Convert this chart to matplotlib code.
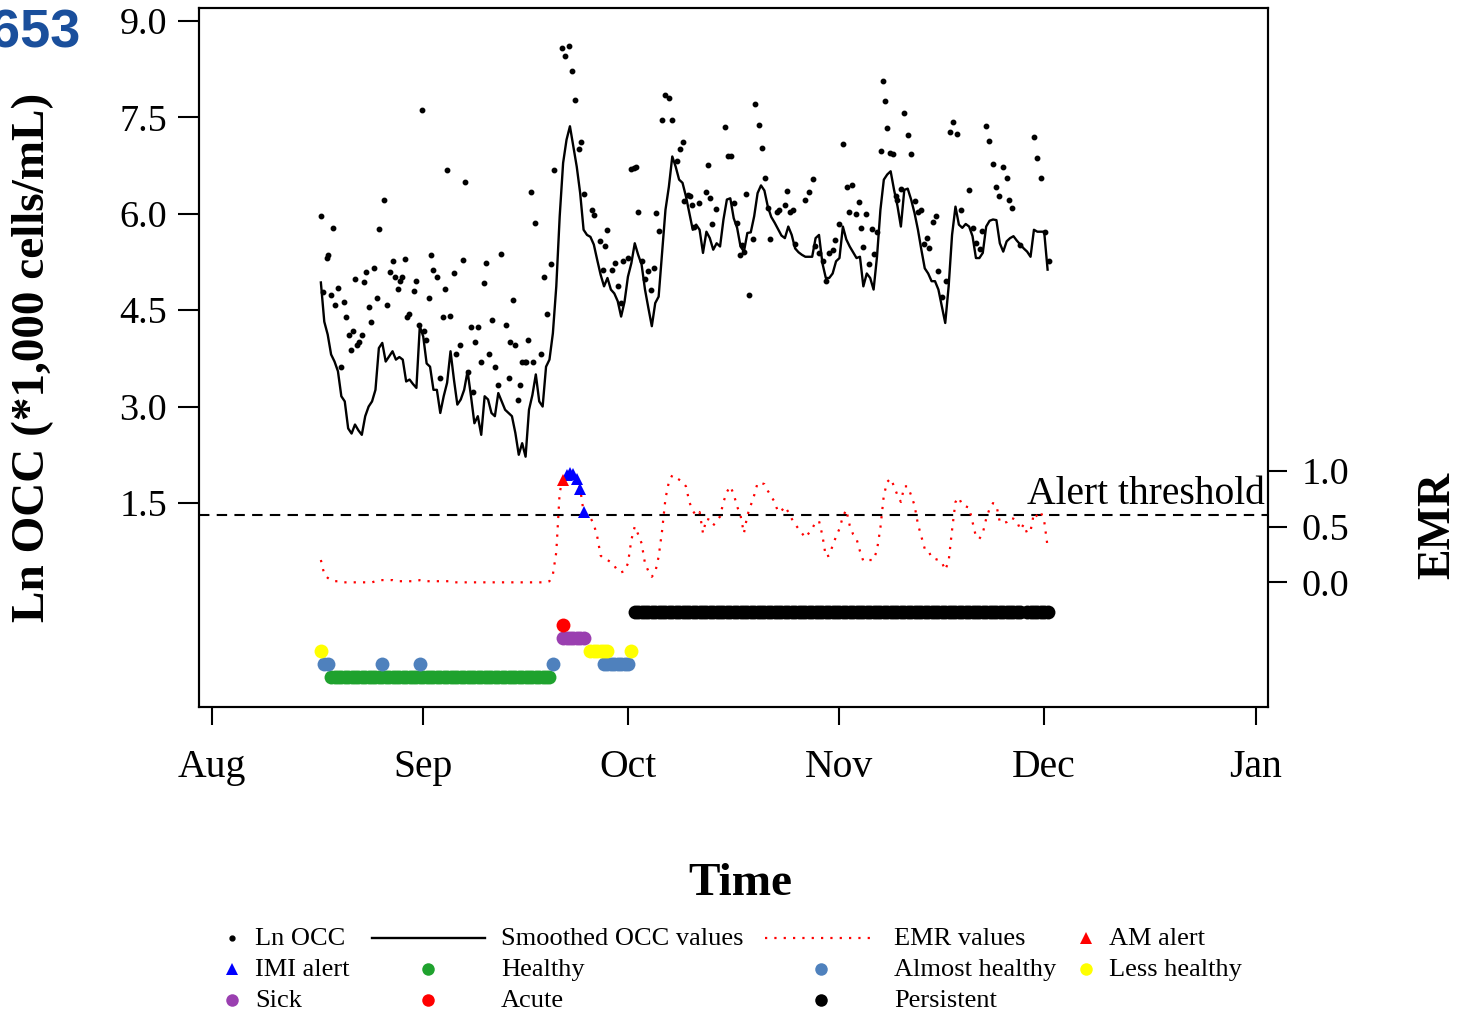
import matplotlib.pyplot as plt
import matplotlib.dates as mdates
import matplotlib.transforms as mtransforms
from matplotlib.lines import Line2D
from datetime import datetime
import numpy as np

plt.rcParams['font.family'] = ['Liberation Serif', 'DejaVu Serif']

cow_id = '653'

# days after 1 Aug for the raw Ln OCC values
dot_days = [15.96, 16.35, 16.84, 17.08, 17.47, 17.76, 18.11, 18.54, 18.89, 19.33,
            19.67, 20.11, 20.45, 20.64, 20.99, 21.33, 21.62, 21.96, 22.30, 22.55,
            22.99, 23.28, 23.77, 24.21, 24.50, 25.18, 25.72, 26.16, 26.50, 26.89,
            27.28, 27.57, 27.92, 28.26, 28.55, 28.89, 29.67, 29.92, 30.36, 30.75,
            31.09, 31.43, 31.82, 32.11, 32.45, 33.09, 33.53, 33.87, 34.21, 34.55,
            34.99, 35.48, 35.87, 36.46, 36.80, 37.19, 37.58, 37.97, 38.26, 38.65,
            39.04, 39.53, 39.97, 40.26, 40.65, 41.04, 41.48, 41.92, 42.46, 43.09,
            43.53, 43.78, 44.17, 44.51, 44.95, 45.24, 45.48, 45.88, 46.12, 46.36,
            46.75, 47.10, 47.44, 48.27, 48.71, 49.15, 49.68,
            50.22, 51.35, 51.74, 52.32, 52.76, 53.30, 53.79, 54.13, 54.52, 55.74,
            55.98, 56.86, 57.35, 57.64, 57.94, 58.62, 59.15, 59.50, 59.98, 60.28,
            60.96, 61.45, 61.84, 62.13, 62.47, 63.06, 63.45, 63.94, 64.38, 64.87,
            65.11, 65.55, 66.04, 66.48, 67.01, 67.45, 68.18, 68.57, 69.01, 69.26,
            69.75, 70.14, 70.43, 70.72, 71.41, 72.43, 72.72, 72.97, 73.36, 73.85,
            75.16, 75.70, 76.09, 76.58, 76.97, 77.36, 77.65, 77.94, 78.34, 78.73,
            79.31, 79.65, 80.14, 80.58, 81.07, 81.46, 81.75, 82.83, 83.17, 84.00,
            84.29, 84.78, 85.17,
            85.50, 87.02, 87.51, 88.09, 88.43, 89.06, 89.55, 90.04, 90.53, 91.02,
            91.41, 91.94, 92.58, 93.07, 93.46, 93.85, 94.38, 94.82, 95.12, 95.51,
            95.85, 96.34, 96.73, 97.02, 97.46, 98.14, 98.34, 98.68, 99.02, 99.41,
            99.90, 100.29, 100.48, 101.02, 101.46, 102.00, 102.44, 103.07, 103.56, 103.90,
            104.44, 104.88, 105.17, 105.76, 106.10, 106.49, 106.98, 107.61, 108.20, 108.68,
            109.17, 109.76, 110.98, 111.51, 111.95, 112.59, 112.93, 113.47, 113.95, 114.44,
            114.93, 115.42, 116.00, 116.49, 116.88, 117.23, 118.45, 120.49, 120.98, 121.57,
            122.10, 122.74]
dot_vals = [5.97, 4.78, 5.31, 5.35, 4.74, 5.78, 4.58, 4.85, 3.62, 4.63,
            4.39, 4.11, 3.88, 4.18, 4.98, 3.95, 4.00, 4.11, 4.93, 5.09,
            4.55, 4.31, 5.16, 4.69, 5.76, 6.21, 4.58, 5.09, 5.27, 5.01,
            4.83, 4.95, 5.02, 5.30, 4.39, 4.44, 4.80, 4.96, 4.27, 7.62,
            4.18, 4.04, 4.69, 5.35, 5.13, 5.01, 3.44, 4.39, 4.83, 6.68,
            4.41, 5.08, 3.82, 3.95, 5.28, 6.50, 3.54, 4.23, 3.22, 4.00,
            4.23, 3.70, 4.92, 5.24, 3.82, 4.35, 3.62, 3.34, 5.38, 4.27,
            3.45, 4.00, 4.66, 3.95, 3.10, 3.34, 3.70, 3.70, 3.70, 4.04,
            6.33, 3.70, 5.85, 3.82, 5.02, 4.44, 5.22,
            6.68, 8.57, 8.45, 8.61, 8.22, 7.77, 7.01, 7.12, 6.30, 6.06,
            5.98, 5.57, 5.13, 5.50, 5.74, 5.13, 5.24, 4.88, 4.61, 5.26,
            5.31, 6.69, 6.71, 6.72, 6.03, 5.26, 4.98, 5.11, 4.81, 5.15,
            6.01, 5.73, 7.45, 7.85, 7.80, 7.45, 6.82, 7.01, 7.11, 6.20,
            6.29, 6.27, 6.14, 5.79, 6.17, 6.33, 6.76, 6.25, 5.84, 6.08,
            7.35, 6.90, 6.90, 6.17, 5.86, 5.36, 5.52, 5.40, 6.30, 4.74,
            5.61, 7.70, 7.38, 7.02, 6.55, 6.09, 5.60, 6.03, 6.06, 6.14,
            6.35, 6.03, 6.06,
            5.53, 6.22, 6.33, 6.54, 5.49, 5.39, 5.26, 4.96, 5.39, 5.43,
            5.59, 5.84, 7.08, 6.42, 6.03, 6.45, 5.99, 6.18, 5.77, 5.48,
            5.99, 5.22, 5.76, 5.38, 5.72, 6.98, 8.07, 7.76, 7.34, 6.94,
            6.93, 6.28, 6.22, 6.39, 7.56, 7.23, 6.93, 6.20, 6.03, 6.06,
            5.53, 5.62, 5.47, 5.87, 5.96, 5.11, 4.71, 4.95, 7.27, 7.43,
            7.24, 6.06, 6.37, 5.78, 5.54, 5.45, 5.73, 7.36, 7.13, 6.77,
            6.41, 6.28, 6.72, 6.55, 6.22, 6.09, 5.52, 7.19, 6.87, 6.55,
            5.71, 5.26]

# smoothed OCC and EMR, every half day from 17 Aug (day 16)
grid_start = 16.0
grid_step = 0.5
occ_smooth = [4.93, 4.32, 4.12, 3.81, 3.70, 3.55, 3.16, 3.08, 2.66, 2.58,
              2.72, 2.63, 2.56, 2.85, 3.00, 3.08, 3.26, 3.91, 3.99, 3.70,
              3.78, 3.86, 3.73, 3.77, 3.73, 3.39, 3.42, 3.35, 3.29, 4.25,
              4.09, 3.67, 3.62, 3.26, 3.26, 2.90, 3.16, 3.37, 3.86, 3.42,
              3.03, 3.11, 3.26, 3.55, 3.16, 2.74, 2.85, 2.56, 3.16, 3.11,
              2.90, 2.85, 3.21, 3.08, 2.95, 2.90, 2.85, 2.59, 2.25, 2.43,
              2.22, 2.95, 3.18, 3.50, 3.08, 3.00, 3.62, 3.73, 4.14, 4.87,
              5.96, 6.79, 7.15, 7.36, 7.05, 6.73, 6.32, 5.75, 5.67, 5.64,
              5.52, 5.28, 5.05, 4.87, 5.00, 4.82, 4.76, 4.64, 4.40, 4.63,
              5.02, 5.23, 5.54, 5.36, 5.21, 4.82, 4.53, 4.25, 4.61, 4.71,
              5.39, 6.06, 6.42, 6.89, 6.73, 6.53, 6.48, 6.27, 6.01, 5.75,
              5.83, 5.75, 5.39, 5.72, 5.62, 5.44, 5.54, 5.49, 5.91, 6.22,
              6.24, 5.93, 5.78, 5.49, 5.41, 5.70, 5.71, 5.96, 6.32, 6.44,
              6.36, 6.11, 5.95, 5.86, 5.76, 5.66, 5.62, 5.80, 5.67, 5.46,
              5.40, 5.36, 5.33, 5.33, 5.33, 5.62, 5.67, 5.23, 5.00, 5.00,
              5.07, 5.26, 5.31, 5.80, 5.60, 5.49, 5.40, 5.31, 5.33, 4.87,
              5.07, 5.00, 4.82, 5.33, 6.06, 6.53, 6.61, 6.66, 6.37, 6.12,
              5.80, 6.37, 6.39, 6.22, 6.01, 5.75, 5.44, 5.15, 5.07, 4.95,
              4.95, 4.82, 4.56, 4.30, 4.87, 5.67, 6.11, 5.83, 5.78, 5.84,
              5.80, 5.65, 5.31, 5.31, 5.39, 5.80, 5.89, 5.91, 5.90, 5.54,
              5.41, 5.57, 5.62, 5.65, 5.58, 5.52, 5.46, 5.41, 5.33, 5.75,
              5.72, 5.72, 5.72, 5.13]
emr = [0.20, 0.07, 0.04, 0.02, 0.01, 0.01, 0.00, 0.00, 0.00, 0.00,
       0.00, 0.00, 0.00, 0.00, 0.00, 0.00, 0.01, 0.02, 0.02, 0.02,
       0.02, 0.02, 0.01, 0.01, 0.01, 0.01, 0.01, 0.01, 0.01, 0.02,
       0.02, 0.01, 0.01, 0.01, 0.01, 0.01, 0.01, 0.01, 0.01, 0.00,
       0.00, 0.00, 0.00, 0.00, 0.00, 0.00, 0.00, 0.00, 0.00, 0.00,
       0.00, 0.00, 0.00, 0.00, 0.00, 0.00, 0.00, 0.00, 0.00, 0.00,
       0.00, 0.00, 0.00, 0.00, 0.00, 0.00, 0.00, 0.01, 0.07, 0.27,
       0.81, 0.92, 0.96, 0.98, 0.97, 0.93, 0.84, 0.63, 0.61, 0.58,
       0.52, 0.41, 0.24, 0.21, 0.20, 0.18, 0.15, 0.10, 0.09, 0.10,
       0.17, 0.38, 0.50, 0.43, 0.35, 0.17, 0.10, 0.05, 0.09, 0.23,
       0.46, 0.75, 0.90, 0.96, 0.94, 0.92, 0.90, 0.86, 0.72, 0.64,
       0.60, 0.63, 0.44, 0.57, 0.56, 0.51, 0.55, 0.59, 0.72, 0.81,
       0.86, 0.79, 0.68, 0.60, 0.44, 0.60, 0.69, 0.78, 0.89, 0.89,
       0.88, 0.82, 0.77, 0.72, 0.63, 0.64, 0.68, 0.63, 0.57, 0.52,
       0.48, 0.44, 0.40, 0.44, 0.48, 0.54, 0.55, 0.42, 0.23, 0.24,
       0.33, 0.41, 0.48, 0.59, 0.65, 0.51, 0.43, 0.39, 0.28, 0.19,
       0.20, 0.20, 0.20, 0.29, 0.49, 0.78, 0.90, 0.93, 0.86, 0.78,
       0.72, 0.86, 0.86, 0.78, 0.69, 0.52, 0.41, 0.30, 0.29, 0.22,
       0.21, 0.20, 0.18, 0.11, 0.19, 0.47, 0.72, 0.76, 0.69, 0.68,
       0.67, 0.54, 0.41, 0.39, 0.44, 0.57, 0.66, 0.71, 0.69, 0.54,
       0.53, 0.54, 0.58, 0.57, 0.55, 0.47, 0.52, 0.44, 0.46, 0.62,
       0.59, 0.63, 0.55, 0.32]
alert_threshold = 0.6

am_alert_days = [51.5]
imi_alert_days = [52.0, 52.5, 53.0, 53.5, 54.0, 54.5]

# udder health status, runs of half-day records (first day, last day)
status_runs = {
    'Healthy': [(17.5, 49.5)],
    'Almost healthy': [(16.5, 17.0), (25.0, 25.0), (30.5, 30.5), (50.0, 50.0), (57.5, 61.0)],
    'Less healthy': [(16.0, 16.0), (55.5, 58.0), (61.5, 61.5)],
    'Sick': [(51.5, 54.5)],
    'Acute': [(51.5, 51.5)],
    'Persistent': [(62.0, 118.5), (119.5, 122.5)],
}
status_level = {'Persistent': -0.2, 'Acute': -0.4, 'Sick': -0.6,
                'Less healthy': -0.8, 'Almost healthy': -1.0, 'Healthy': -1.2}
status_color = {'Healthy': '#1fa22e', 'Almost healthy': '#4f81bd', 'Less healthy': '#ffff00',
                'Sick': '#9a3fb0', 'Acute': '#ff0000', 'Persistent': '#000000'}

W, H = 1462, 1011
fig = plt.figure(figsize=(W / 100, H / 100), dpi=100)
ax = fig.add_axes([199 / W, 1 - 707 / H, (1268 - 199) / W, (707 - 8) / H])
ax2 = ax.twinx()

base = mdates.date2num(datetime(2017, 8, 1))
t_grid = base + grid_start + grid_step * np.arange(len(occ_smooth))
emr_arr = np.array(emr)

ax.plot(base + np.array(dot_days), dot_vals, 'o', color='k', ms=3.2, zorder=3)
ax.plot(t_grid, occ_smooth, color='k', lw=1.7, zorder=3)

for name in ['Healthy', 'Almost healthy', 'Less healthy', 'Sick', 'Acute', 'Persistent']:
    days = np.concatenate([np.arange(a, b + 0.01, 0.5) for a, b in status_runs[name]])
    ax.scatter(base + days, np.full(len(days), status_level[name]), s=100,
               color=status_color[name], linewidths=0, zorder=2)

ax2.plot(t_grid, emr, color='red', lw=1.6, ls=(0, (1, 3.2)), zorder=3)
ax2.axhline(alert_threshold, color='k', lw=1.5, ls=(0, (5, 3.5)), zorder=2)


def emr_at(days):
    idx = np.round((np.array(days) - grid_start) / grid_step).astype(int)
    return emr_arr[idx]


ax2.plot(base + np.array(imi_alert_days), emr_at(imi_alert_days), '^', color='#0000ff',
         ms=9, mew=0, zorder=4)
ax2.plot(base + np.array(am_alert_days), emr_at(am_alert_days), '^', color='#ff0000',
         ms=9, mew=0, zorder=4)

trans = mtransforms.blended_transform_factory(ax2.transAxes, ax2.transData)
ax2.text(0.997, 0.70, 'Alert threshold', transform=trans, ha='right', va='baseline', fontsize=28.5)

ax.set_xlim(base - 1.86, base + 154.8)
ax.xaxis.set_major_locator(mdates.MonthLocator())
ax.xaxis.set_major_formatter(mdates.DateFormatter('%b'))
ax.set_ylim(-1.674, 9.20)
ax.set_yticks([1.5, 3.0, 4.5, 6.0, 7.5, 9.0])
ax.set_yticklabels(['%.1f' % v for v in [1.5, 3.0, 4.5, 6.0, 7.5, 9.0]])
ax2.set_ylim(-1.117, 5.146)
ax2.set_yticks([0.0, 0.5, 1.0])
ax2.set_yticklabels(['0.0', '0.5', '1.0'])

ax.tick_params(axis='y', length=15, width=1.5, labelsize=27.5, pad=8)
ax.tick_params(axis='x', length=13, width=1.5, labelsize=28.5, pad=17)
ax2.tick_params(axis='y', length=14, width=1.5, labelsize=27.5, pad=10)
for a in (ax, ax2):
    for s in a.spines.values():
        s.set_linewidth(1.5)

fig.text(80 / W, 1 - 47 / H, cow_id, color='#1a4f9c', fontsize=39, fontweight='bold',
         family='Liberation Sans', ha='right', va='baseline')
fig.text(33 / W, 1 - 357 / H, 'Ln OCC (*1,000 cells/mL)', rotation=90, fontsize=34,
         fontweight='bold', ha='center', va='center')
fig.text(1438 / W, 1 - 525 / H, 'EMR', rotation=90, fontsize=33, fontweight='bold',
         ha='center', va='center')
fig.text(740 / W, 1 - 884 / H, 'Time', fontsize=34, fontweight='bold', ha='center', va='center')

# legend, laid out in four columns like the original
col_handle = [(232, 232), (372, 485), (765, 877), (1086, 1086)]
col_text = [255, 501, 894, 1109]
row_y = [938, 969, 1000]
legend_items = [
    ('Ln OCC', 0, 0, dict(marker='o', ms=3.5, color='k', ls='none')),
    ('Smoothed OCC values', 1, 0, dict(color='k', lw=1.7)),
    ('EMR values', 2, 0, dict(color='red', lw=1.6, ls=(0, (1, 3.2)))),
    ('AM alert', 3, 0, dict(marker='^', ms=9, mew=0, color='#ff0000', ls='none')),
    ('IMI alert', 0, 1, dict(marker='^', ms=9, mew=0, color='#0000ff', ls='none')),
    ('Healthy', 1, 1, dict(marker='o', ms=9, mew=0, color=status_color['Healthy'], ls='none')),
    ('Almost healthy', 2, 1, dict(marker='o', ms=9, mew=0, color=status_color['Almost healthy'], ls='none')),
    ('Less healthy', 3, 1, dict(marker='o', ms=9, mew=0, color=status_color['Less healthy'], ls='none')),
    ('Sick', 0, 2, dict(marker='o', ms=9, mew=0, color=status_color['Sick'], ls='none')),
    ('Acute', 1, 2, dict(marker='o', ms=9, mew=0, color=status_color['Acute'], ls='none')),
    ('Persistent', 2, 2, dict(marker='o', ms=9, mew=0, color=status_color['Persistent'], ls='none')),
]
for label, col, row, style in legend_items:
    x0, x1 = col_handle[col]
    y = 1 - row_y[row] / H
    if 'marker' in style:
        xs = [(x0 + x1) / 2 / W]
        ys = [y]
    else:
        xs = [x0 / W, x1 / W]
        ys = [y, y]
    fig.add_artist(Line2D(xs, ys, transform=fig.transFigure, **style))
    fig.text(col_text[col] / W, y - 1 / H, label, fontsize=19, ha='left', va='center')

plt.savefig('out.png', dpi=100, facecolor='white')
